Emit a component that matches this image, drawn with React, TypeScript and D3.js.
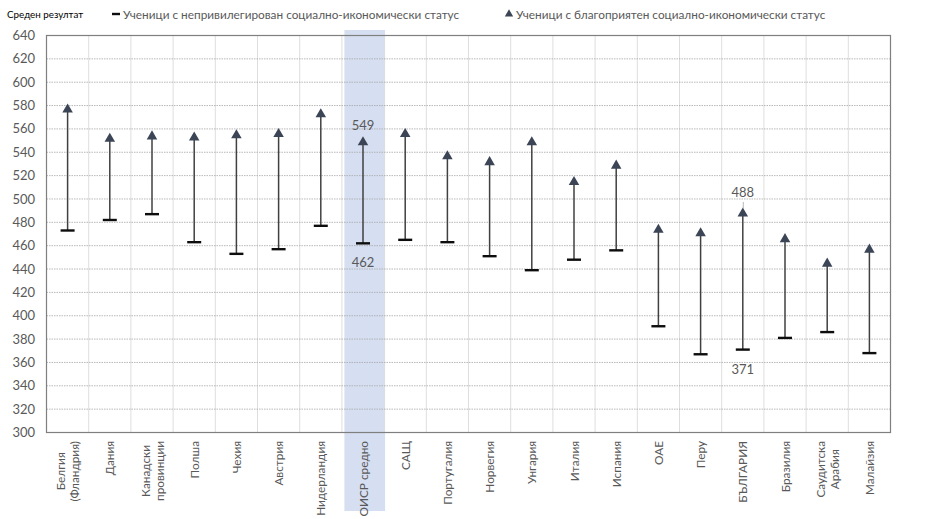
import * as React from 'react';
import * as d3 from 'd3';

const categories: string[][] = [
  ['Белгия', '(Фландрия)'],
  ['Дания'],
  ['Канадски', 'провинции'],
  ['Полша'],
  ['Чехия'],
  ['Австрия'],
  ['Нидерландия'],
  ['ОИСР средно'],
  ['САЩ'],
  ['Португалия'],
  ['Норвегия'],
  ['Унгария'],
  ['Италия'],
  ['Испания'],
  ['ОАЕ'],
  ['Перу'],
  ['БЪЛГАРИЯ'],
  ['Бразилия'],
  ['Саудитска', 'Арабия'],
  ['Малайзия'],
];

const lowValues = [473, 482, 487, 463, 453, 457, 477, 462, 465, 463, 451, 439, 448, 456, 391, 367, 371, 381, 386, 368];
const highValues = [577, 552, 554, 553, 555, 556, 573, 549, 556, 537, 532, 549, 515, 529, 474, 471, 488, 466, 445, 457];

const labelled = ['ОИСР средно', 'БЪЛГАРИЯ'];
const highlighted = 'ОИСР средно';

const yTicks = d3.range(300, 641, 20);

const legendTitle = 'Среден резултат';
const legendLow = 'Ученици с непривилегирован социално-икономически статус';
const legendHigh = 'Ученици с благоприятен социално-икономически статус';

const FONT = 'Lato, "Open Sans", sans-serif';
const TEXT = '#595959';

const W = 931;
const H = 519;
const M = { left: 46.5, right: 890.5, top: 35.5, bottom: 432.5 };

let ctx: CanvasRenderingContext2D | null = null;
function textWidth(s: string, size: number) {
  if (!ctx) ctx = document.createElement('canvas').getContext('2d');
  if (!ctx) return s.length * size * 0.55;
  ctx.font = `${size}px Lato`;
  return ctx.measureText(s).width;
}

export default function App() {
  const names = categories.map((c) => c.join(' '));
  const x = d3.scaleBand<string>().domain(names).range([M.left, M.right]).padding(0);
  const y = d3.scaleLinear().domain([300, 640]).range([M.bottom, M.top]);
  const bw = x.bandwidth();
  const tri = d3.symbol().type(d3.symbolTriangle).size(48)() ?? '';

  return (
    <svg width={W} height={H} style={{ position: 'absolute', left: 0, top: 0, fontFamily: FONT }}>
      <rect width={W} height={H} fill="#fff" />

      {/* highlight band */}
      <rect x={(x(highlighted) ?? 0) + 2.5} y={30} width={bw - 1.5} height={481} fill="#d6dff1" />

      {/* vertical gridlines */}
      {names.map((n, i) =>
        i === 0 ? null : (
          <line key={n} x1={x(n)} x2={x(n)} y1={M.top} y2={M.bottom} stroke="#dedede" strokeWidth={1} />
        )
      )}

      {/* horizontal gridlines */}
      {yTicks.slice(1, -1).map((t) => (
        <line key={t} x1={M.left} x2={M.right} y1={y(t)} y2={y(t)} stroke="#a6a6a6" strokeWidth={0.8} strokeDasharray="1.5,1" />
      ))}

      {/* box */}
      <rect x={M.left} y={M.top} width={M.right - M.left} height={M.bottom - M.top} fill="none" stroke="#7f7f7f" strokeWidth={1.2} />

      {/* y labels */}
      {yTicks.map((t) => (
        <text key={t} x={35} y={y(t)} dy="0.35em" textAnchor="end" fontSize={13} fill={TEXT}>
          {t}
        </text>
      ))}

      {/* x labels */}
      {categories.map((lines, i) => {
        const n = names[i];
        const cx = (x(n) ?? 0) + bw / 2;
        const size = 11.8;
        const maxW = d3.max(lines, (l) => textWidth(l, size)) ?? 0;
        const midY = 441 + maxW / 2;
        const lh = 14;
        return lines.map((l, j) => {
          const lx = cx + (j - (lines.length - 1) / 2) * lh + 4.5;
          return (
            <text key={n + j} transform={`translate(${lx},${midY}) rotate(-90)`} textAnchor="middle" fontSize={size} fill={TEXT}>
              {l}
            </text>
          );
        });
      })}

      {/* ranges */}
      {names.map((n, i) => {
        const cx = (x(n) ?? 0) + bw / 2;
        return (
          <g key={n}>
            <line x1={cx} x2={cx} y1={y(lowValues[i])} y2={y(highValues[i])} stroke="#404040" strokeWidth={1.5} />
            <line x1={cx - 7} x2={cx + 7} y1={y(lowValues[i])} y2={y(lowValues[i])} stroke="#0d0d0d" strokeWidth={2.4} />
            <path d={tri} transform={`translate(${cx},${y(highValues[i]) + 0.5})`} fill="#3b4556" />
          </g>
        );
      })}

      {/* data labels */}
      {names.map((n, i) => {
        if (!labelled.includes(n)) return null;
        const cx = (x(n) ?? 0) + bw / 2;
        const hy = y(highValues[i]);
        const ly = y(lowValues[i]);
        const gap = n === 'БЪЛГАРИЯ' ? 16 : 12;
        return (
          <g key={'lab' + n}>
            {n === 'БЪЛГАРИЯ' && (
              <line x1={cx + 0.5} x2={cx + 0.5} y1={hy - 11} y2={hy - 4} stroke="#a6a6a6" strokeWidth={0.8} />
            )}
            <text x={cx} y={hy - gap} textAnchor="middle" fontSize={13} fill={TEXT}>
              {highValues[i]}
            </text>
            <text x={cx} y={ly + 24} textAnchor="middle" fontSize={13} fill={TEXT}>
              {lowValues[i]}
            </text>
          </g>
        );
      })}

      {/* legend */}
      <text x={7} y={18} fontSize={9.8} fill="#000">
        {legendTitle}
      </text>
      <line x1={112} x2={120} y1={14} y2={14} stroke="#0d0d0d" strokeWidth={2.4} />
      <text x={123} y={18.5} fontSize={11.8} fill={TEXT}>
        {legendLow}
      </text>
      <path d={d3.symbol().type(d3.symbolTriangle).size(30)() ?? ''} transform="translate(509,14)" fill="#3b4556" />
      <text x={516} y={18.5} fontSize={11.8} fill={TEXT}>
        {legendHigh}
      </text>
    </svg>
  );
}
